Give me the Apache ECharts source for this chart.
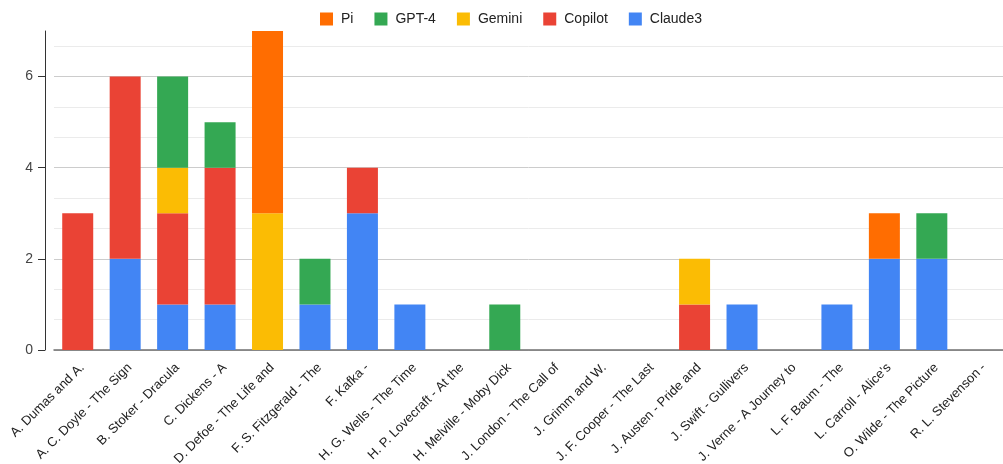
<!DOCTYPE html>
<html>
<head>
<meta charset="utf-8">
<title>chart</title>
<script src="https://cdn.jsdelivr.net/npm/echarts@6/dist/echarts.min.js"></script>
<style>
	html, body { margin: 0; padding: 0; background: #fff; }
	#main { width: 1003px; height: 464px; }
</style>
</head>
<body>
<div id="main"></div>
<script>
var books = ['A. Dumas and A.', 'A. C. Doyle - The Sign', 'B. Stoker - Dracula', 'C. Dickens - A',
	'D. Defoe - The Life and', 'F. S. Fitzgerald - The', 'F. Kafka -', 'H. G. Wells - The Time',
	'H. P. Lovecraft - At the', 'H. Melville - Moby Dick', 'J. London - The Call of', 'J. Grimm and W.',
	'J. F. Cooper - The Last', 'J. Austen - Pride and', 'J. Swift - Gullivers', 'J. Verne - A Journey to',
	'L. F. Baum - The', 'L. Carroll - Alice\'s', 'O. Wilde - The Picture', 'R. L. Stevenson -'];

var claude3 = [0, 2, 1, 1, 0, 1, 3, 1, 0, 0, 0, 0, 0, 0, 1, 0, 1, 2, 2, 0];
var copilot = [3, 4, 2, 3, 0, 0, 1, 0, 0, 0, 0, 0, 0, 1, 0, 0, 0, 0, 0, 0];
var gemini  = [0, 0, 1, 0, 3, 0, 0, 0, 0, 0, 0, 0, 0, 1, 0, 0, 0, 0, 0, 0];
var gpt4    = [0, 0, 2, 1, 0, 1, 0, 0, 0, 1, 0, 0, 0, 0, 0, 0, 0, 0, 1, 0];
var pi      = [0, 0, 0, 0, 4, 0, 0, 0, 0, 0, 0, 0, 0, 0, 0, 0, 0, 1, 0, 0];

var yTicks = [0, 2, 4, 6];

var chart = echarts.init(document.getElementById('main'));

function barSeries(name, data, color) {
	return {
		name: name,
		type: 'bar',
		stack: 'total',
		barWidth: 31,
		data: data,
		itemStyle: {
			color: color
		}
	};
}

var font = '"Liberation Sans", Arial, sans-serif';

var option = {
	animation: false,
	textStyle: { fontFamily: font },
	legend: {
		top: 7,
		left: 315,
		itemWidth: 13,
		itemHeight: 13,
		itemGap: 21,
		icon: 'rect',
		textStyle: { fontSize: 14, color: '#222', fontFamily: font, padding: [0, 0, 0, 3] },
		// legend goes top of stack first
		data: ['Pi', 'GPT-4', 'Gemini', 'Copilot', 'Claude3']
	},
	grid: {
		left: 54,
		right: 0,
		top: 31,
		bottom: 114,
		containLabel: false,
		outerBoundsMode: 'none'
	},
	xAxis: {
		type: 'category',
		data: books,
		axisTick: { show: false },
		axisLine: {
			lineStyle: { color: '#707070', width: 1.5 }
		},
		axisLabel: {
			rotate: 45,
			interval: 0,
			margin: 11,
			verticalAlign: 'top',
			fontSize: 13,
			color: '#222',
			fontFamily: font
		}
	},
	yAxis: [{
		type: 'value',
		min: 0,
		max: 7,
		interval: 2,
		offset: 9,
		axisLine: {
			show: true,
			lineStyle: { color: '#333', width: 1 }
		},
		axisTick: {
			show: true,
			length: 7,
			customValues: yTicks,
			lineStyle: { color: '#333' }
		},
		axisLabel: {
			customValues: yTicks,
			fontSize: 14,
			color: '#444',
			margin: 12,
			fontFamily: font
		},
		splitLine: { show: false }
	}, {
		// only for the grid lines, every 2/3 of a unit
		type: 'value',
		min: 0,
		max: 21,
		interval: 2,
		axisLine: { show: false },
		axisTick: { show: false },
		axisLabel: { show: false },
		splitLine: {
			show: true,
			showMaxLine: false,
			lineStyle: { color: ['#cccccc', '#ebebeb', '#ebebeb'], width: 1 }
		}
	}],
	series: [
		barSeries('Claude3', claude3, '#4285F4'),
		barSeries('Copilot', copilot, '#EA4335'),
		barSeries('Gemini', gemini, '#FBBC04'),
		barSeries('GPT-4', gpt4, '#34A853'),
		barSeries('Pi', pi, '#FF6D01')
	]
};

chart.setOption(option);
</script>
</body>
</html>
